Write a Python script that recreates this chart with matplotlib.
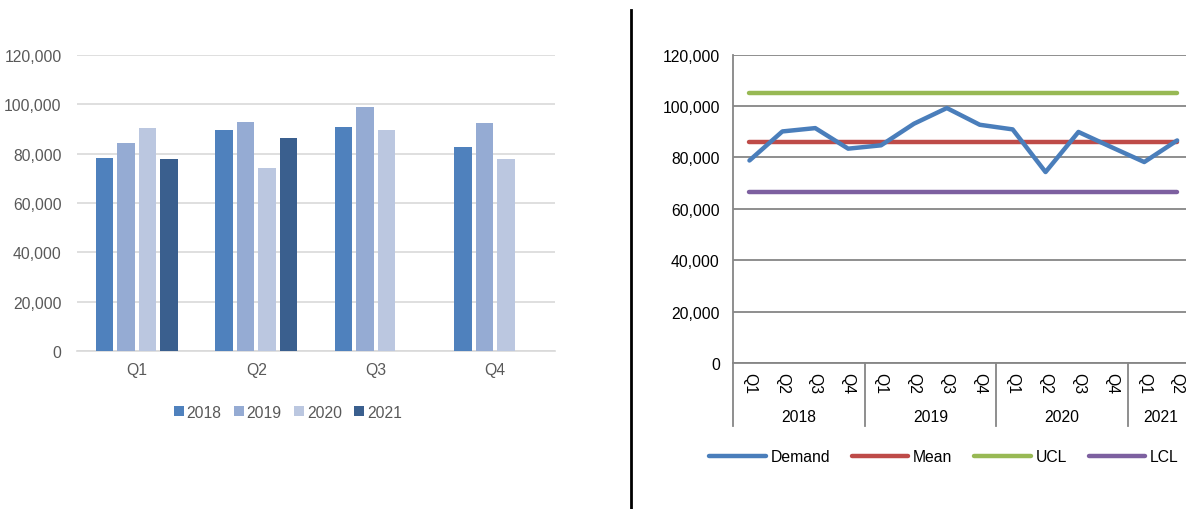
import numpy as np
import matplotlib
matplotlib.use("Agg")
import matplotlib.pyplot as plt
from matplotlib.ticker import FuncFormatter
from matplotlib.transforms import blended_transform_factory

plt.rcParams['font.family'] = ['Liberation Sans', 'DejaVu Sans']

# quarterly demand by year (bar chart)
quarters = ["Q1", "Q2", "Q3", "Q4"]
years = ["2018", "2019", "2020", "2021"]
demand_2018 = [78400, 89400, 91000, 82900]
demand_2019 = [84500, 92700, 98900, 92300]
demand_2020 = [90600, 74100, 89500, 77700]
demand_2021 = [78000, 86500]
bar_colors = ["#4f81bd", "#95abd3", "#bbc7e0", "#3a5f8e"]

# demand time series with control limits
series_years = ["2018", "2019", "2020", "2021"]
series_quarters = [["Q1", "Q2", "Q3", "Q4"], ["Q1", "Q2", "Q3", "Q4"],
                   ["Q1", "Q2", "Q3", "Q4"], ["Q1", "Q2"]]
demand = [78800, 90100, 91400, 83400, 84700, 93100, 99200,
          92700, 90900, 74300, 89900, 84000, 78200, 86600]
mean_val = 86000
ucl_val = 105200
lcl_val = 66600

FS = 11.3

fig = plt.figure(figsize=(11.86, 5.10), dpi=100)

# ---- left: clustered bars ----
ax1 = fig.add_axes([77 / 1186, 1 - 352 / 510, (555 - 77) / 1186, (352 - 56) / 510])
x = np.arange(len(quarters))
slot = 0.18
width = 0.143
for i, (yr, vals) in enumerate(zip(years, [demand_2018, demand_2019, demand_2020, demand_2021])):
    offs = (i - 1.5) * slot
    ax1.bar(x[:len(vals)] + offs, vals, width=width, color=bar_colors[i],
            label=yr, zorder=3)

ax1.set_xlim(-0.5, 3.5)
ax1.set_ylim(0, 120000)
ax1.set_yticks(np.arange(0, 120001, 20000))
ax1.yaxis.set_major_formatter(FuncFormatter(lambda v, p: f"{int(v):,}"))
ax1.set_xticks(x)
ax1.set_xticklabels(quarters)
ax1.grid(axis='y', color='#d9d9d9', linewidth=1.2, zorder=0)
for s in ['top', 'right', 'left']:
    ax1.spines[s].set_visible(False)
ax1.spines['bottom'].set_color('#d9d9d9')
ax1.spines['bottom'].set_linewidth(1.2)
ax1.tick_params(axis='both', length=0, labelsize=FS, colors='#595959')
ax1.tick_params(axis='y', pad=11)
ax1.tick_params(axis='x', pad=8)
ax1.legend(loc='center', bbox_to_anchor=(288 / 1186, 1 - 413 / 510),
           bbox_transform=fig.transFigure, ncol=4, frameon=False,
           handlelength=0.6, handleheight=0.6, handletextpad=0.2,
           columnspacing=0.8, fontsize=FS, labelcolor='#595959')

# separator between the two charts
fig.add_artist(plt.Line2D([631 / 1186, 631 / 1186], [0, 1 - 11 / 510],
                          color='black', linewidth=2, transform=fig.transFigure))

# ---- right: control chart ----
n = len(demand)
ax2 = fig.add_axes([733 / 1186, 1 - 364 / 510, (n * 32.9) / 1186, (364 - 55.6) / 510])
t = np.arange(n)
ax2.plot(t, demand, color='#4a7ebb', linewidth=3.2, solid_capstyle='round',
         solid_joinstyle='round', label='Demand', zorder=4)
ax2.plot(t, [mean_val] * n, color='#be4b48', linewidth=3.2,
         solid_capstyle='round', label='Mean', zorder=3)
ax2.plot(t, [ucl_val] * n, color='#98b954', linewidth=3.2,
         solid_capstyle='round', label='UCL', zorder=3)
ax2.plot(t, [lcl_val] * n, color='#7d60a0', linewidth=3.2,
         solid_capstyle='round', label='LCL', zorder=3)

ax2.set_xlim(-0.5, n - 0.5)
ax2.set_ylim(0, 120000)
ax2.set_yticks(np.arange(0, 120001, 20000))
ax2.yaxis.set_major_formatter(FuncFormatter(lambda v, p: f"{int(v):,}"))
ax2.grid(axis='y', color='#868686', linewidth=1.3, zorder=0)
ax2.set_xticks([])
for s in ['top', 'right']:
    ax2.spines[s].set_visible(False)
for s in ['left', 'bottom']:
    ax2.spines[s].set_color('#868686')
    ax2.spines[s].set_linewidth(1.3)
ax2.tick_params(axis='y', length=0, labelsize=FS, colors='black', pad=9.5)

# two-level category axis: quarters over years
tr = blended_transform_factory(ax2.transData, ax2.transAxes)
pos = 0
edges = [-0.5]
for yr, qs in zip(series_years, series_quarters):
    for q in qs:
        ax2.text(pos, -0.063, q, transform=tr, rotation=-90, ha='center',
                 va='center', fontsize=FS)
        pos += 1
    ax2.text(pos - len(qs) / 2 - 0.5, -0.175, yr, transform=tr,
             ha='center', va='center', fontsize=FS)
    edges.append(pos - 0.5)
for e in edges:
    ax2.plot([e, e], [0, -0.205], transform=tr, color='#868686',
             linewidth=1.3, clip_on=False)

fig.legend(*ax2.get_legend_handles_labels(), loc='center',
           bbox_to_anchor=(944 / 1186, 1 - 458 / 510), ncol=4, frameon=False,
           handlelength=3.6, handletextpad=0.3, columnspacing=1.4, fontsize=FS)

fig.savefig("out.png", dpi=100)
